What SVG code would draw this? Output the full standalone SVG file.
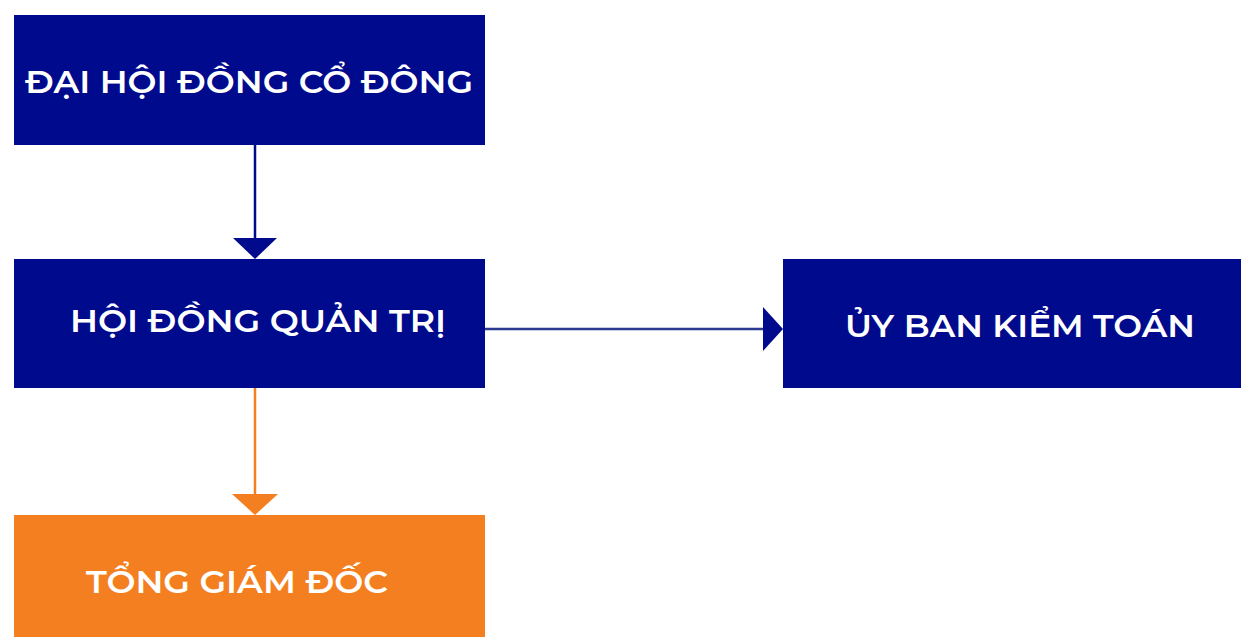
<svg xmlns="http://www.w3.org/2000/svg" width="1241" height="637" viewBox="0 0 1241 637">
<style>
.blue{fill:#000a8c}
.orange{fill:#f47f20}
.t{font-family:"Montserrat","Open Sans","Liberation Sans",sans-serif;font-weight:600;font-size:32px;fill:#fff}
</style>
<rect width="1241" height="637" fill="#fff"/>
<g id="connectors">
<line x1="255" y1="145" x2="255" y2="240" stroke="#000a8c" stroke-width="2.5"/>
<polygon points="233,238 277,238 255,259" class="blue"/>
<line x1="485" y1="329" x2="765" y2="329" stroke="#2b3a8f" stroke-width="2.5"/>
<polygon points="763,307 763,351 783,329" class="blue"/>
<line x1="255" y1="388" x2="255" y2="496" stroke="#f47f20" stroke-width="2.5"/>
<polygon points="232,494 278,494 255,515" class="orange"/>
</g>
<g id="dhdcd">
<rect x="14" y="15" width="471" height="130" class="blue"/>
<text x="25" y="93" class="t" textLength="448" lengthAdjust="spacingAndGlyphs">ĐẠI HỘI ĐỒNG CỔ ĐÔNG</text>
</g>
<g id="hdqt">
<rect x="14" y="259" width="471" height="129" class="blue"/>
<text x="70" y="332" class="t" textLength="376" lengthAdjust="spacingAndGlyphs">HỘI ĐỒNG QUẢN TRỊ</text>
</g>
<g id="ubkt">
<rect x="783" y="259" width="458" height="129" class="blue"/>
<text x="845" y="337" class="t" textLength="350" lengthAdjust="spacingAndGlyphs">ỦY BAN KIỂM TOÁN</text>
</g>
<g id="tgd">
<rect x="14" y="515" width="471" height="122" class="orange"/>
<text x="86" y="593" class="t" textLength="302" lengthAdjust="spacingAndGlyphs">TỔNG GIÁM ĐỐC</text>
</g>
</svg>
